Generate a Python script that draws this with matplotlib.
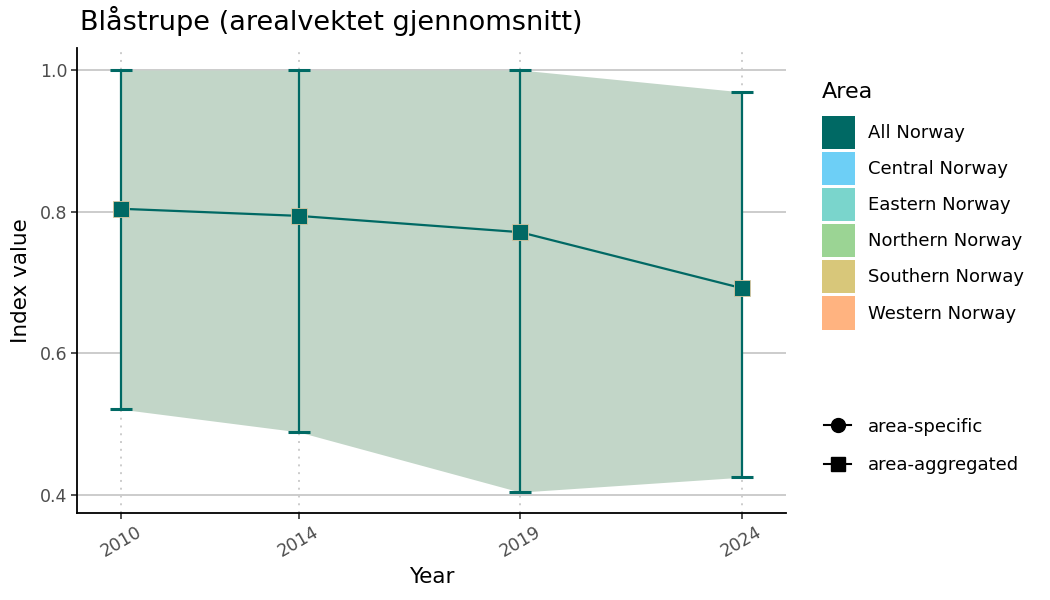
import matplotlib.pyplot as plt
from matplotlib.patches import Patch
from matplotlib.lines import Line2D

years = [2010, 2014, 2019, 2024]
index_mean = [0.804, 0.794, 0.771, 0.692]
index_low = [0.521, 0.489, 0.404, 0.425]
index_high = [1.0, 1.0, 1.0, 0.969]

areas = ["All Norway", "Central Norway", "Eastern Norway",
         "Northern Norway", "Southern Norway", "Western Norway"]
area_colors = ["#006964", "#6DCFF6", "#7AD5CC", "#9BD494", "#D8C77A", "#FFB380"]
shape_labels = ["area-specific", "area-aggregated"]

main_col = "#006964"
fill_col = "#C2D6C8"

fig = plt.figure(figsize=(10.5, 6), dpi=100)
ax = fig.add_axes([0.0733, 0.145, 0.6753, 0.775])

# grid
for y in [0.4, 0.6, 0.8, 1.0]:
    ax.axhline(y, color="#cccccc", lw=1.4, zorder=0)
for x in years:
    ax.axvline(x, color="#cccccc", lw=1.4, ls=(0, (1, 3)), zorder=0)

ax.fill_between(years, index_low, index_high, color=fill_col, lw=0, zorder=1)
ax.errorbar(years, index_mean,
            yerr=[[m - l for m, l in zip(index_mean, index_low)],
                  [h - m for m, h in zip(index_mean, index_high)]],
            fmt="none", ecolor=main_col, elinewidth=1.6, capsize=8,
            capthick=2.2, zorder=2)
ax.plot(years, index_mean, color=main_col, lw=1.6, zorder=3)
ax.plot(years, index_mean, ls="none", marker="s", ms=11.5, color=main_col,
        mec="#d9c7a0", mew=0.6, zorder=4)

ax.set_xlim(2009.0, 2025.0)
ax.set_ylim(0.3745, 1.031)
ax.set_xticks(years)
ax.set_yticks([0.4, 0.6, 0.8, 1.0])
ax.set_yticklabels(["0.4", "0.6", "0.8", "1.0"])
ax.tick_params(axis="both", labelsize=12.5, labelcolor="#4d4d4d",
               color="#333333", length=4, width=1.2, pad=3)
plt.setp(ax.get_xticklabels(), rotation=30, ha="center", va="top")
for s in ["top", "right"]:
    ax.spines[s].set_visible(False)
for s in ["left", "bottom"]:
    ax.spines[s].set_linewidth(1.3)
    ax.spines[s].set_color("black")

ax.set_xlabel("Year", fontsize=15.5, labelpad=5)
ax.set_ylabel("Index value", fontsize=15.5, labelpad=6.5)
fig.text(0.0762, 0.965, "Blåstrupe (arealvektet gjennomsnitt)", fontsize=19.5,
         ha="left", va="center")

# legends
fig.text(0.783, 0.847, "Area", fontsize=16, ha="left", va="center")
patches = [Patch(facecolor=c, edgecolor="none", label=a)
           for a, c in zip(areas, area_colors)]
fig.legend(handles=patches, loc="upper left",
           bbox_to_anchor=(0.783, 0.807), frameon=False, fontsize=13,
           handlelength=1.83, handleheight=2.44,
           labelspacing=0.17, handletextpad=0.72, borderaxespad=0,
           borderpad=0)

shape_handles = [Line2D([], [], color="black", marker=m, ms=10, lw=1.5, label=l)
                 for m, l in zip(["o", "s"], shape_labels)]
fig.legend(handles=shape_handles, loc="upper left",
           bbox_to_anchor=(0.785, 0.304), frameon=False, fontsize=13,
           handlelength=1.5, labelspacing=1.15, handletextpad=0.94,
           borderaxespad=0, borderpad=0)

fig.savefig("out.png", dpi=100)
